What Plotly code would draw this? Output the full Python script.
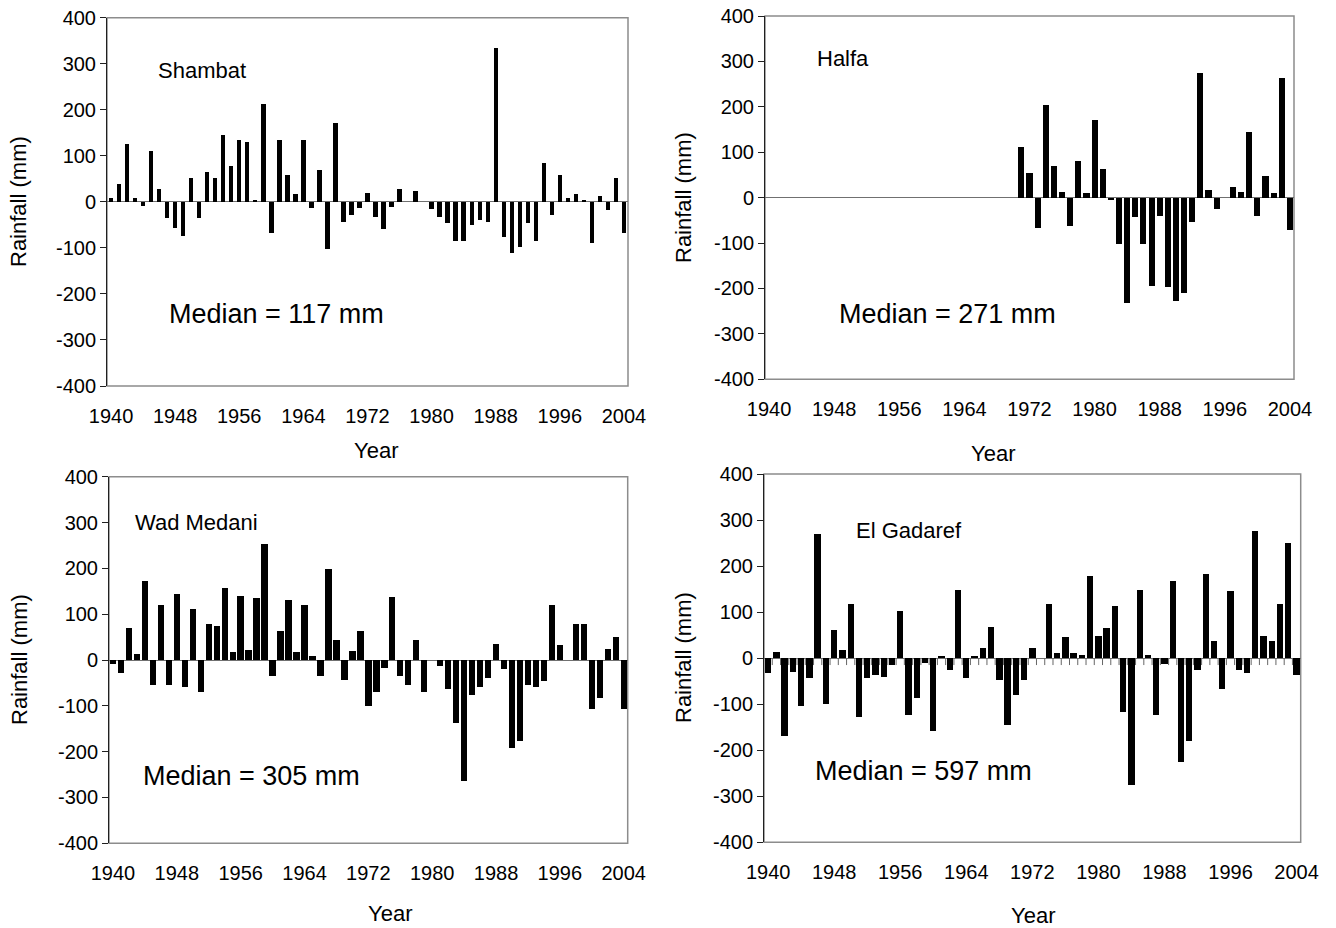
import plotly.graph_objects as go

W, H = 1336, 928

years = list(range(1940, 2005))
tick_years = [1940, 1948, 1956, 1964, 1972, 1980, 1988, 1996, 2004]
y_ticks = [-400, -300, -200, -100, 0, 100, 200, 300, 400]

shambat = [8, 39, 125, 9, -10, 111, 27, -36, -56, -74,
           51, -36, 65, 51, 145, 77, 134, 130, 5, 213,
           -67, 134, 59, 16, 134, -13, 69, -103, 172, -43,
           -28, -13, 20, -32, -59, -12, 27, 0, 24, 0,
           -16, -32, -47, -85, -85, -51, -40, -43, 334, -77,
           -112, -97, -46, -85, 84, -29, 58, 8, 16, 4,
           -90, 12, -17, 51, -67]

halfa = [None] * 31 + [112, 54, -67, 204, 70, 13, -62, 81, 10,
                       171, 62, -5, -102, -233, -43, -102, -194, -40, -196,
                       -228, -209, -54, 274, 17, -25, 0, 24, 13, 144,
                       -40, 48, 10, 263, -71]

wad_medani = [-9, -28, 70, 13, 172, -55, 119, -55, 143, -59,
              112, -70, 78, 74, 158, 17, 139, 21, 135, 253,
              -35, 63, 131, 17, 119, 9, -35, 199, 43, -43,
              20, 63, -100, -70, -17, 138, -35, -55, 44, -70,
              0, -12, -63, -138, -264, -77, -59, -40, 36, -20,
              -192, -177, -55, -59, -46, 119, 32, 0, 78, 78,
              -108, -82, 24, 50, -108]

el_gadaref = [-33, 14, -169, -29, -105, -43, 270, -100, 61, 18,
              117, -127, -43, -36, -40, -14, 103, -123, -86, -11,
              -158, 4, -25, 148, -43, 4, 22, 68, -48, -146,
              -81, -48, 22, 0, 117, 11, 45, 11, 7, 178,
              49, 65, 114, -116, -275, 148, 7, -123, -13, 167,
              -226, -180, -25, 183, 38, -67, 145, -25, -33, 277,
              49, 38, 117, 250, -36]

stations = ["Shambat", "Halfa", "Wad Medani", "El Gadaref"]
medians = ["Median = 117 mm", "Median = 271 mm", "Median = 305 mm", "Median = 597 mm"]
series = [shambat, halfa, wad_medani, el_gadaref]
bar_widths = [0.55, 0.75, 0.8, 0.77]

# plot-area boxes in window pixels (left, right, top, bottom)
boxes = [(107, 628, 17.7, 386), (765, 1294, 16, 379.3),
         (109, 627.7, 476.7, 843.3), (764, 1300.7, 474, 842.3)]
name_pos = [(202, 71), (843, 58), (196.5, 522), (908.5, 530.5)]
median_pos = [(276, 314), (947, 314), (251.5, 776), (924, 771)]
year_pos = [(376, 451), (993, 453), (390, 913), (1033, 915)]
ytitle_pos = [(19, 202), (683, 198), (19, 660), (683, 658)]

FONT = "Liberation Sans, Arial, sans-serif"

def px(x):
    return x / W

def py(y):
    return 1 - y / H

fig = go.Figure()
annotations = []
shapes = []

for i in range(4):
    n = i + 1
    xa = "x" if n == 1 else f"x{n}"
    ya = "y" if n == 1 else f"y{n}"
    l, r, t, b = boxes[i]
    fig.add_trace(go.Bar(x=years, y=series[i], width=bar_widths[i],
                         marker=dict(color="black", line=dict(width=0)),
                         xaxis=xa, yaxis=ya, showlegend=False))
    if i == 3:
        tx, ty = [], []
        for yv in years[:-1]:
            tx += [yv + 0.5, yv + 0.5, None]
            ty += [0, -15, None]
        fig.add_trace(go.Scatter(x=tx, y=ty, mode="lines",
                                 line=dict(color="#666666", width=1),
                                 xaxis=xa, yaxis=ya, showlegend=False,
                                 hoverinfo="skip"))
    xkey = "xaxis" if n == 1 else f"xaxis{n}"
    ykey = "yaxis" if n == 1 else f"yaxis{n}"
    fig.update_layout(**{
        xkey: dict(domain=[px(l), px(r)], anchor=ya, range=[1939.5, 2004.5],
                   tickmode="array", tickvals=tick_years,
                   ticktext=[str(v) for v in tick_years],
                   showgrid=False, zeroline=False, showline=False,
                   ticks="", ticklabelstandoff=16, automargin=False,
                   ticklabeloverflow="allow",
                   tickfont=dict(family=FONT, size=20, color="black")),
        ykey: dict(domain=[py(b), py(t)], anchor=xa, range=[-400, 400],
                   tickmode="array", tickvals=y_ticks,
                   ticktext=[str(v) for v in y_ticks],
                   showgrid=False, zeroline=True, zerolinecolor="#707070",
                   zerolinewidth=1, showline=True, linecolor="#202020",
                   linewidth=1, ticks="outside", ticklen=6, tickcolor="#202020",
                   automargin=False, ticklabeloverflow="allow",
                   tickfont=dict(family=FONT, size=20, color="black")),
    })
    shapes.append(dict(type="rect", xref="paper", yref="paper",
                       x0=px(l), x1=px(r), y0=py(b), y1=py(t),
                       line=dict(color="#8c8c8c", width=1.5), layer="below"))
    annotations.append(dict(text=stations[i], x=px(name_pos[i][0]), y=py(name_pos[i][1]),
                            xref="paper", yref="paper", showarrow=False,
                            xanchor="center", yanchor="middle",
                            font=dict(family=FONT, size=22, color="black")))
    annotations.append(dict(text=medians[i], x=px(median_pos[i][0]), y=py(median_pos[i][1]),
                            xref="paper", yref="paper", showarrow=False,
                            xanchor="center", yanchor="middle",
                            font=dict(family=FONT, size=27, color="black")))
    annotations.append(dict(text="Year", x=px(year_pos[i][0]), y=py(year_pos[i][1]),
                            xref="paper", yref="paper", showarrow=False,
                            xanchor="center", yanchor="middle",
                            font=dict(family=FONT, size=22, color="black")))
    annotations.append(dict(text="Rainfall (mm)", x=px(ytitle_pos[i][0]), y=py(ytitle_pos[i][1]),
                            xref="paper", yref="paper", showarrow=False, textangle=-90,
                            xanchor="center", yanchor="middle",
                            font=dict(family=FONT, size=22, color="black")))

fig.update_layout(width=W, height=H, margin=dict(l=0, r=0, t=0, b=0),
                  paper_bgcolor="white", plot_bgcolor="white",
                  bargap=0, annotations=annotations, shapes=shapes,
                  showlegend=False)

# remove the default 8px page margin so the figure fills the window exactly
fig.write_html("out.html",
               config={"displayModeBar": False, "staticPlot": True},
               post_script="document.body.style.margin='0';document.body.style.overflow='hidden';")
